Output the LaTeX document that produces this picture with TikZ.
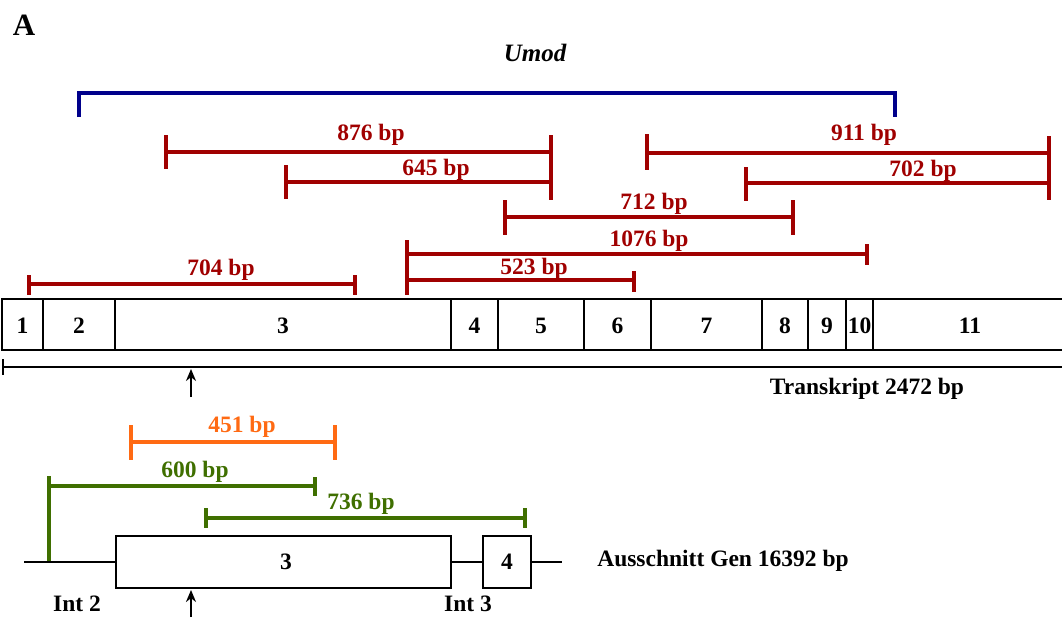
\documentclass[tikz,border=0pt]{standalone}
\usepackage{fontspec}
\setmainfont{Liberation Serif}
\usetikzlibrary{arrows.meta}
\definecolor{dred}{HTML}{A00000}
\definecolor{dblue}{HTML}{00008B}
\definecolor{orng}{HTML}{FF6A13}
\definecolor{dgreen}{HTML}{3F6F00}
\newcommand\ival[8]{%
  \draw[#1, ival] (#2,#5) -- (#2,#6) (#2,#4) -- (#3,#4) (#3,#7) -- (#3,#8);}
\begin{document}
\begin{tikzpicture}[x=1pt,y=-1pt,
  lab/.style={font=\bfseries\fontsize{23.5}{23.5}\selectfont, inner sep=0pt},
  ival/.style={line width=3.4pt},
  box/.style={draw=black, line width=2.6pt},
  uparrow/.style={-{Stealth[length=12pt,width=10pt]}, line width=2.2pt}]
\useasboundingbox (0,0) rectangle (1062,621);

\node[font=\bfseries\fontsize{31}{31}\selectfont, inner sep=0pt] (A) at (24,25) {A};
\node[font=\bfseries\itshape\fontsize{25}{25}\selectfont, inner sep=0pt] (umod) at (535,53) {Umod};

% blue bracket
\draw[dblue, line width=3.6pt] (79,117) -- (79,93) -- (895,93) -- (895,117);

% red intervals
\ival{dred}{166}{551}{152}{135}{169}{135}{200}
\node[lab, dred] (l876) at (371,135) {876 bp};
\ival{dred}{286}{551}{182}{165}{199}{165}{200}
\node[lab, dred] (l645) at (436,170) {645 bp};
\ival{dred}{647}{1049}{153}{134}{170}{136}{200}
\node[lab, dred] (l911) at (864,135) {911 bp};
\ival{dred}{746}{1049}{183}{167}{201}{167}{200}
\node[lab, dred] (l702) at (923,171) {702 bp};
\ival{dred}{505}{793}{217}{200}{235}{200}{235}
\node[lab, dred] (l712) at (654,204) {712 bp};
\ival{dred}{407}{867}{254}{240}{295}{244}{265}
\node[lab, dred] (l1076) at (649,241) {1076 bp};
\ival{dred}{407}{634}{280}{240}{295}{271}{292}
\node[lab, dred] (l523) at (534,269) {523 bp};
\ival{dred}{29}{355}{284}{275}{295}{275}{295}
\node[lab, dred] (l704) at (221,270) {704 bp};

% exon bar
\foreach \a/\b/\n in {2/43/1, 43/115/2, 115/451/3, 451/498/4, 498/584/5, 584/651/6, 651/762/7, 762/808/8, 808/846/9, 846/873/10}{
  \draw[box] (\a,299) rectangle (\b,350);
  \node[lab] (ex\n) at ({(\a+\b)/2},326) {\n};
}
\draw[box] (873,299) rectangle (1066,350);
\node[lab] (ex11) at (970,326) {11};

% transcript line
\draw[line width=2.6pt] (3,359) -- (3,375) (3,367) -- (1066,367);
\coordinate (t1) at (191,397);
\coordinate (t2) at (191,369);
\draw[uparrow] (t1) -- (t2);
\node[lab] (trans) at (867,389) {Transkript 2472 bp};

% orange
\ival{orng}{131}{335}{442}{425}{460}{425}{460}
\node[lab, orng] (l451) at (242,427) {451 bp};

% green
\ival{dgreen}{49}{315}{486}{476}{562}{477}{496}
\node[lab, dgreen] (l600) at (195,472) {600 bp};
\ival{dgreen}{206}{525}{518}{508}{528}{508}{528}
\node[lab, dgreen] (l736) at (361,504) {736 bp};

% gene
\draw[line width=2.6pt] (24,562) -- (116,562) (451,562) -- (483,562) (531,562) -- (562,562);
\draw[box] (116,536) rectangle (451,588);
\node[lab] (g3) at (286,562) {3};
\draw[box] (483,536) rectangle (531,588);
\node[lab] (g4) at (507,562) {4};
\node[lab] (int2) at (77,604) {Int 2};
\node[lab] (int3) at (468,604) {Int 3};
\coordinate (g1) at (191,617);
\coordinate (g2) at (191,590);
\draw[uparrow] (g1) -- (g2);
\node[lab] (gen) at (723,561) {Ausschnitt Gen 16392 bp};
\end{tikzpicture}
\end{document}
